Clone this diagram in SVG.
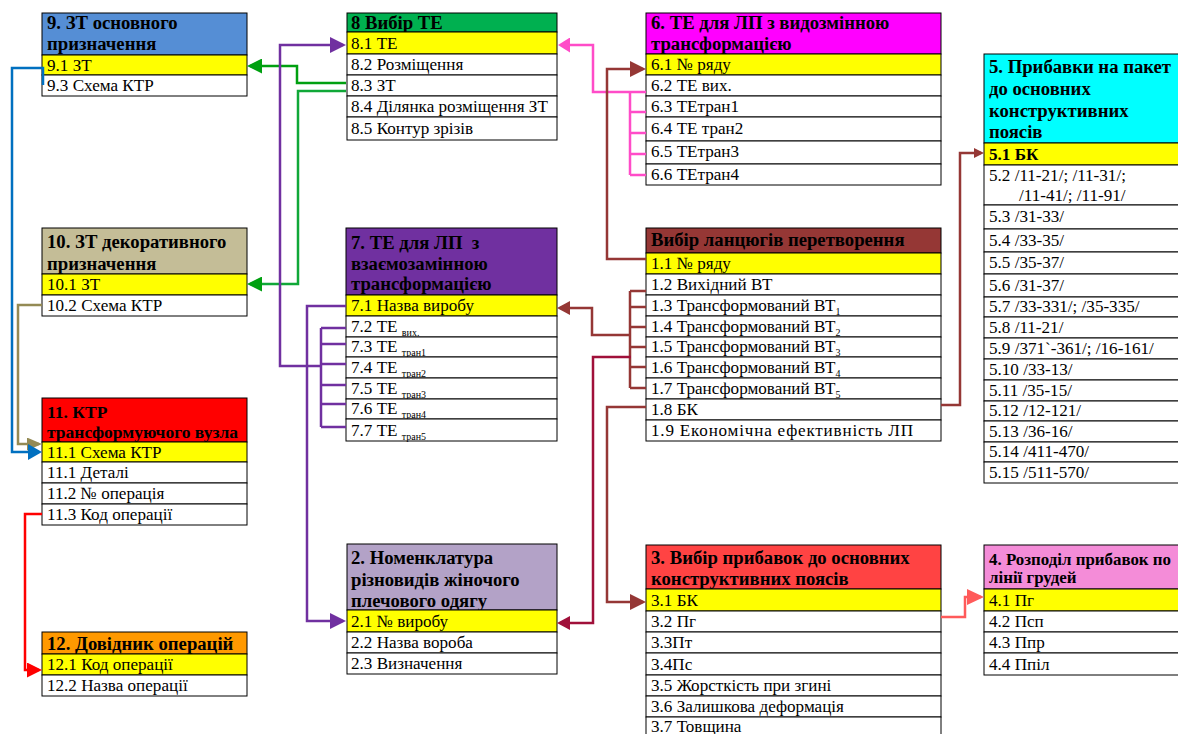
<svg xmlns="http://www.w3.org/2000/svg" width="1178" height="734" viewBox="0 0 1178 734">
<style>
text{font-family:"Liberation Serif","Times New Roman",serif;fill:#000}
.h{font-weight:bold;font-size:18.7px}
.h4{font-weight:bold;font-size:16.9px}
.h11{font-weight:bold;font-size:17.5px}
.t{font-size:17.1px}
.tb{font-size:17.1px;font-weight:bold}
.s{font-size:10px}
rect{stroke:#000;stroke-width:1}
.w{fill:#fff}
.y{fill:#ffff00}
.c{fill:none;stroke-width:2.5;stroke-linejoin:miter}
</style>
<defs>
<marker id="mBlue" markerUnits="userSpaceOnUse" markerWidth="14" markerHeight="16" refX="11" refY="8" orient="auto"><path d="M0,0 L14,8 L0,16z" fill="#0070C0"/></marker>
<marker id="mTan" markerUnits="userSpaceOnUse" markerWidth="15" markerHeight="13" refX="12" refY="6.5" orient="auto"><path d="M0,0 L15,6.5 L0,13z" fill="#948A54"/></marker>
<marker id="mRed" markerUnits="userSpaceOnUse" markerWidth="15" markerHeight="15" refX="12" refY="7.5" orient="auto"><path d="M0,0 L15,7.5 L0,15z" fill="#FF0000"/></marker>
<marker id="mGreen" markerUnits="userSpaceOnUse" markerWidth="15" markerHeight="15" refX="12" refY="7.5" orient="auto"><path d="M0,0 L15,7.5 L0,15z" fill="#00A010"/></marker>
<marker id="mPurple" markerUnits="userSpaceOnUse" markerWidth="16" markerHeight="16" refX="13" refY="8" orient="auto"><path d="M0,0 L16,8 L0,16z" fill="#7030A0"/></marker>
<marker id="mPink" markerUnits="userSpaceOnUse" markerWidth="12" markerHeight="15" refX="9" refY="7.5" orient="auto"><path d="M0,0 L12,7.5 L0,15z" fill="#FF4CC8"/></marker>
<marker id="mBrown" markerUnits="userSpaceOnUse" markerWidth="16" markerHeight="16" refX="13" refY="8" orient="auto"><path d="M0,0 L16,8 L0,16z" fill="#953735"/></marker>
<marker id="mBrownS" markerUnits="userSpaceOnUse" markerWidth="13" markerHeight="14" refX="10" refY="7" orient="auto"><path d="M0,0 L13,7 L0,14z" fill="#953735"/></marker>
<marker id="mBrownXS" markerUnits="userSpaceOnUse" markerWidth="10" markerHeight="10" refX="7" refY="5" orient="auto"><path d="M0,0 L10,5 L0,10z" fill="#953735"/></marker>
<marker id="mCrimson" markerUnits="userSpaceOnUse" markerWidth="13" markerHeight="14" refX="10" refY="7" orient="auto"><path d="M0,0 L13,7 L0,14z" fill="#A0103A"/></marker>
<marker id="mCoral" markerUnits="userSpaceOnUse" markerWidth="17" markerHeight="16" refX="14" refY="8" orient="auto"><path d="M0,0 L17,8 L0,16z" fill="#FF5A5A"/></marker>
</defs>

<g id="t9">
<rect x="42" y="13" width="205" height="42" fill="#558ED5"/>
<text class="h" x="47" y="29">9. ЗТ основного</text>
<text class="h" x="47" y="50">призначення</text>
<rect class="y" x="42" y="55" width="205" height="20"/><text class="t" x="47" y="71">9.1 ЗТ</text>
<rect class="w" x="42" y="75" width="205" height="21"/><text class="t" x="47" y="91">9.3 Схема КТР</text>
</g>

<g id="t8">
<rect x="347" y="13" width="210" height="19" fill="#00B050"/>
<text class="h" x="351" y="29">8 Вибір ТЕ</text>
<rect class="y" x="347" y="32" width="210" height="22"/><text class="t" x="351" y="49">8.1 ТЕ</text>
<rect class="w" x="347" y="54" width="210" height="21"/><text class="t" x="351" y="70">8.2 Розміщення</text>
<rect class="w" x="347" y="75" width="210" height="21"/><text class="t" x="351" y="91">8.3 ЗТ</text>
<rect class="w" x="347" y="96" width="210" height="21"/><text class="t" x="351" y="112">8.4 Ділянка розміщення ЗТ</text>
<rect class="w" x="347" y="117" width="210" height="23"/><text class="t" x="351" y="134">8.5 Контур зрізів</text>
</g>

<g id="t6">
<rect x="646" y="13" width="295" height="41" fill="#FF00FF"/>
<text class="h" x="651" y="29">6. ТЕ для ЛП з видозмінною</text>
<text class="h" x="651" y="50">трансформацією</text>
<rect class="y" x="646" y="54" width="295" height="21"/><text class="t" x="651" y="70">6.1 № ряду</text>
<rect class="w" x="646" y="75" width="295" height="21"/><text class="t" x="651" y="91">6.2 ТЕ вих.</text>
<rect class="w" x="646" y="96" width="295" height="21"/><text class="t" x="651" y="112">6.3 ТЕтран1</text>
<rect class="w" x="646" y="117" width="295" height="24"/><text class="t" x="651" y="134">6.4 ТЕ тран2</text>
<rect class="w" x="646" y="141" width="295" height="23"/><text class="t" x="651" y="157">6.5 ТЕтран3</text>
<rect class="w" x="646" y="164" width="295" height="21"/><text class="t" x="651" y="180">6.6 ТЕтран4</text>
</g>

<g id="t5">
<rect x="984" y="54" width="220" height="89" fill="#00FFFF"/>
<text class="h" x="989" y="73">5. Прибавки на пакет</text>
<text class="h" x="989" y="95">до основних</text>
<text class="h" x="989" y="117">конструктивних</text>
<text class="h" x="989" y="138">поясів</text>
<rect class="y" x="984" y="143" width="220" height="22"/><text class="tb" x="989" y="160">5.1 БК</text>
<rect class="w" x="984" y="165" width="220" height="40"/><text class="t" x="989" y="181">5.2 /11-21/; /11-31/;</text><text class="t" x="1019" y="201">/11-41/; /11-91/</text>
<rect class="w" x="984" y="205" width="220" height="24"/><text class="t" x="989" y="222">5.3 /31-33/</text>
<rect class="w" x="984" y="229" width="220" height="23"/><text class="t" x="989" y="246">5.4 /33-35/</text>
<rect class="w" x="984" y="252" width="220" height="22"/><text class="t" x="989" y="268">5.5 /35-37/</text>
<rect class="w" x="984" y="274" width="220" height="23"/><text class="t" x="989" y="291">5.6 /31-37/</text>
<rect class="w" x="984" y="297" width="220" height="20"/><text class="t" x="989" y="312">5.7 /33-331/; /35-335/</text>
<rect class="w" x="984" y="317" width="220" height="21"/><text class="t" x="989" y="333">5.8 /11-21/</text>
<rect class="w" x="984" y="338" width="220" height="21"/><text class="t" x="989" y="354">5.9 /371`-361/; /16-161/</text>
<rect class="w" x="984" y="359" width="220" height="21"/><text class="t" x="989" y="375">5.10 /33-13/</text>
<rect class="w" x="984" y="380" width="220" height="21"/><text class="t" x="989" y="396">5.11 /35-15/</text>
<rect class="w" x="984" y="401" width="220" height="20"/><text class="t" x="989" y="416">5.12 /12-121/</text>
<rect class="w" x="984" y="421" width="220" height="21"/><text class="t" x="989" y="437">5.13 /36-16/</text>
<rect class="w" x="984" y="442" width="220" height="20"/><text class="t" x="989" y="457">5.14 /411-470/</text>
<rect class="w" x="984" y="462" width="220" height="21"/><text class="t" x="989" y="478">5.15 /511-570/</text>
</g>

<g id="t10">
<rect x="42" y="228" width="205" height="46" fill="#C4BD97"/>
<text class="h" x="47" y="248">10. ЗТ декоративного</text>
<text class="h" x="47" y="270">призначення</text>
<rect class="y" x="42" y="274" width="205" height="21"/><text class="t" x="47" y="290">10.1 ЗТ</text>
<rect class="w" x="42" y="295" width="205" height="21"/><text class="t" x="47" y="311">10.2 Схема КТР</text>
</g>

<g id="t11">
<rect x="42" y="398" width="205" height="44" fill="#FF0000"/>
<text class="h11" x="47" y="418">11. КТР</text>
<text class="h11" x="47" y="438">трансформуючого вузла</text>
<rect class="y" x="42" y="442" width="205" height="20"/><text class="t" x="47" y="458">11.1 Схема КТР</text>
<rect class="w" x="42" y="462" width="205" height="21"/><text class="t" x="47" y="478">11.1 Деталі</text>
<rect class="w" x="42" y="483" width="205" height="21"/><text class="t" x="47" y="499">11.2 № операція</text>
<rect class="w" x="42" y="504" width="205" height="21"/><text class="t" x="47" y="520">11.3 Код операції</text>
</g>

<g id="t12">
<rect x="42" y="632" width="205" height="22" fill="#FF9900"/>
<text class="h" x="47" y="650">12. Довідник операцій</text>
<rect class="y" x="42" y="654" width="205" height="21"/><text class="t" x="47" y="670">12.1 Код операції</text>
<rect class="w" x="42" y="675" width="205" height="21"/><text class="t" x="47" y="691">12.2 Назва операції</text>
</g>

<g id="t7">
<rect x="346" y="228" width="211" height="67" fill="#7030A0"/>
<text class="h" x="351" y="249" xml:space="preserve">7. ТЕ для ЛП  з</text>
<text class="h" x="351" y="270">взаємозамінною</text>
<text class="h" x="351" y="290">трансформацією</text>
<rect class="y" x="346" y="295" width="211" height="21"/><text class="t" x="351" y="311">7.1 Назва виробу</text>
<rect class="w" x="346" y="316" width="211" height="21"/><text class="t" x="351" y="332">7.2 ТЕ <tspan class="s" dy="4">вих.</tspan></text>
<rect class="w" x="346" y="337" width="211" height="20"/><text class="t" x="351" y="352">7.3 ТЕ <tspan class="s" dy="4">тран1</tspan></text>
<rect class="w" x="346" y="357" width="211" height="21"/><text class="t" x="351" y="373">7.4 ТЕ <tspan class="s" dy="4">тран2</tspan></text>
<rect class="w" x="346" y="378" width="211" height="21"/><text class="t" x="351" y="394">7.5 ТЕ <tspan class="s" dy="4">тран3</tspan></text>
<rect class="w" x="346" y="399" width="211" height="20"/><text class="t" x="351" y="414">7.6 ТЕ <tspan class="s" dy="4">тран4</tspan></text>
<rect class="w" x="346" y="419" width="211" height="22"/><text class="t" x="351" y="436">7.7 ТЕ <tspan class="s" dy="4">тран5</tspan></text>
</g>

<g id="t1">
<rect x="646" y="228" width="295" height="25" fill="#953735"/>
<text class="h" x="651" y="246">Вибір ланцюгів перетворення</text>
<rect class="y" x="646" y="253" width="295" height="21"/><text class="t" x="651" y="269">1.1 № ряду</text>
<rect class="w" x="646" y="274" width="295" height="21"/><text class="t" x="651" y="290">1.2 Вихідний ВТ</text>
<rect class="w" x="646" y="295" width="295" height="21"/><text class="t" x="651" y="311">1.3 Трансформований ВТ<tspan class="s" dy="4">1</tspan></text>
<rect class="w" x="646" y="316" width="295" height="21"/><text class="t" x="651" y="332">1.4 Трансформований ВТ<tspan class="s" dy="4">2</tspan></text>
<rect class="w" x="646" y="337" width="295" height="20"/><text class="t" x="651" y="352">1.5 Трансформований ВТ<tspan class="s" dy="4">3</tspan></text>
<rect class="w" x="646" y="357" width="295" height="21"/><text class="t" x="651" y="373">1.6 Трансформований ВТ<tspan class="s" dy="4">4</tspan></text>
<rect class="w" x="646" y="378" width="295" height="21"/><text class="t" x="651" y="394">1.7 Трансформований ВТ<tspan class="s" dy="4">5</tspan></text>
<rect class="w" x="646" y="399" width="295" height="21"/><text class="t" x="651" y="415">1.8 БК</text>
<rect class="w" x="646" y="420" width="295" height="21"/><text class="t" x="651" y="436" textLength="262" lengthAdjust="spacing">1.9 Економічна ефективність ЛП</text>
</g>

<g id="t2">
<rect x="347" y="544" width="210" height="66" fill="#B3A2C7"/>
<text class="h" x="351" y="564">2. Номенклатура</text>
<text class="h" x="351" y="586">різновидів жіночого</text>
<text class="h" x="351" y="607">плечового одягу</text>
<rect class="y" x="347" y="610" width="210" height="22"/><text class="t" x="351" y="627">2.1 № виробу</text>
<rect class="w" x="347" y="632" width="210" height="21"/><text class="t" x="351" y="648">2.2 Назва вороба</text>
<rect class="w" x="347" y="653" width="210" height="21"/><text class="t" x="351" y="669">2.3 Визначення</text>
</g>

<g id="t3">
<rect x="646" y="545" width="295" height="44" fill="#FF4343"/>
<text class="h" x="651" y="564">3. Вибір прибавок до основних</text>
<text class="h" x="651" y="585">конструктивних поясів</text>
<rect class="y" x="646" y="589" width="295" height="22"/><text class="t" x="651" y="606">3.1 БК</text>
<rect class="w" x="646" y="611" width="295" height="21"/><text class="t" x="651" y="627">3.2 Пг</text>
<rect class="w" x="646" y="632" width="295" height="21"/><text class="t" x="651" y="648">3.3Пт</text>
<rect class="w" x="646" y="653" width="295" height="22"/><text class="t" x="651" y="670">3.4Пс</text>
<rect class="w" x="646" y="675" width="295" height="21"/><text class="t" x="651" y="691">3.5 Жорсткість при згині</text>
<rect class="w" x="646" y="696" width="295" height="21"/><text class="t" x="651" y="712">3.6 Залишкова деформація</text>
<rect class="w" x="646" y="717" width="295" height="30"/><text class="t" x="651" y="732">3.7 Товщина</text>
</g>

<g id="t4">
<rect x="984" y="545" width="220" height="44" fill="#F48CD8"/>
<text class="h4" x="989" y="565">4. Розподіл прибавок по</text>
<text class="h4" x="989" y="583">лінії грудей</text>
<rect class="y" x="984" y="589" width="220" height="22"/><text class="t" x="989" y="606">4.1 Пг</text>
<rect class="w" x="984" y="611" width="220" height="21"/><text class="t" x="989" y="627">4.2 Псп</text>
<rect class="w" x="984" y="632" width="220" height="21"/><text class="t" x="989" y="648">4.3 Ппр</text>
<rect class="w" x="984" y="653" width="220" height="22"/><text class="t" x="989" y="670">4.4 Ппіл</text>
</g>

<g id="connectors">
<path class="c" stroke="#948A54" d="M42,305 H18 V444 H39" marker-end="url(#mTan)"/>
<path class="c" stroke="#0070C0" stroke-width="2.2" d="M43,85 V68 H12 V452 H39" marker-end="url(#mBlue)"/>
<path class="c" stroke="#FF0000" stroke-width="2.2" d="M42,514 H25 V670 H39" marker-end="url(#mRed)"/>
<path class="c" stroke="#00A010" stroke-width="3" d="M346,83 H297 V66 H250" marker-end="url(#mGreen)"/>
<path class="c" stroke="#10A838" stroke-width="3" d="M346,91 H298 V284 H250" marker-end="url(#mGreen)"/>
<path class="c" stroke="#7030A0" d="M321,366 H280 V45 H343" marker-end="url(#mPurple)"/>
<path class="c" stroke="#7030A0" d="M321,328 V427 M321,328 H346 M321,344 H346 M321,364 H346 M321,385 H346 M321,404 H346 M321,427 H346"/>
<path class="c" stroke="#7030A0" d="M346,306 H307 V621 H343" marker-end="url(#mPurple)"/>
<path class="c" stroke="#FF4CC8" d="M630,92 V175 M630,92 H646 M630,112 H646 M630,133 H646 M630,154 H646 M630,175 H646"/>
<path class="c" stroke="#FF4CC8" d="M630,92 H593 V45 H561" marker-end="url(#mPink)"/>
<path class="c" stroke="#953735" d="M646,259 H607 V69 H643" marker-end="url(#mBrown)"/>
<path class="c" stroke="#953735" d="M630,291 V388 M630,291 H646 M630,307 H646 M630,327 H646 M630,347 H646 M630,367 H646 M630,388 H646"/>
<path class="c" stroke="#953735" d="M630,335 H592 V308 H560" marker-end="url(#mBrownS)"/>
<path class="c" stroke="#A0103A" d="M631,357 H593 V623 H560" marker-end="url(#mCrimson)"/>
<path class="c" stroke="#953735" d="M646,407 H607 V602 H643" marker-end="url(#mBrown)"/>
<path class="c" stroke="#953735" d="M941,405 H960 V153 H981" marker-end="url(#mBrownXS)"/>
<path class="c" stroke="#FF5A5A" d="M941,617 H965 V597 H981" marker-end="url(#mCoral)"/>
</g>
</svg>
